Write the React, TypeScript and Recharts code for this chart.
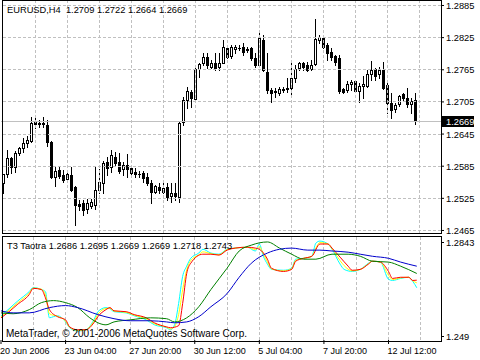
import React from "react";
import { ComposedChart, Bar, Line, XAxis, YAxis, ReferenceLine } from "recharts";

// EURUSD H4 candles, bar 1 = 20 Jun 2006 12:00
const opens = [
  1.2554, 1.2570, 1.2600, 1.2584, 1.2610, 1.2619, 1.2628, 1.2632, 1.2669, 1.2664,
  1.2666, 1.2662, 1.2630, 1.2565, 1.2578, 1.2569, 1.2561, 1.2569, 1.2546, 1.2515,
  1.2517, 1.2505, 1.2511, 1.2513, 1.2541, 1.2554, 1.2593, 1.2584, 1.2602, 1.2593,
  1.2580, 1.2587, 1.2582, 1.2574, 1.2571, 1.2572, 1.2565, 1.2554, 1.2537, 1.2546,
  1.2537, 1.2546, 1.2530, 1.2535, 1.2528, 1.2668, 1.2709, 1.2724, 1.2711, 1.2767,
  1.2778, 1.2789, 1.2770, 1.2778, 1.2770, 1.2778, 1.2806, 1.2791, 1.2804, 1.2806,
  1.2808, 1.2804, 1.2806, 1.2787, 1.2774, 1.2821, 1.2761, 1.2727, 1.2723, 1.2722,
  1.2727, 1.2729, 1.2731, 1.2750, 1.2768, 1.2778, 1.2774, 1.2767, 1.2776, 1.2821,
  1.2824, 1.2811, 1.2798, 1.2791, 1.2787, 1.2729, 1.2727, 1.2738, 1.2744, 1.2725,
  1.2735, 1.2735, 1.2757, 1.2767, 1.2757, 1.2765, 1.2737, 1.2703, 1.2692, 1.2701,
  1.2720, 1.2712, 1.2701, 1.2709,
];
const highs = [
  1.2570, 1.2615, 1.2602, 1.2613, 1.2621, 1.2638, 1.2642, 1.2677, 1.2677, 1.2671,
  1.2677, 1.2671, 1.2632, 1.2584, 1.2584, 1.2578, 1.2574, 1.2584, 1.2548, 1.2521,
  1.2522, 1.2524, 1.2524, 1.2584, 1.2580, 1.2595, 1.2602, 1.2615, 1.2612, 1.2610,
  1.2593, 1.2608, 1.2587, 1.2582, 1.2576, 1.2576, 1.2572, 1.2559, 1.2550, 1.2554,
  1.2554, 1.2554, 1.2554, 1.2554, 1.2668, 1.2714, 1.2733, 1.2727, 1.2768, 1.2778,
  1.2796, 1.2796, 1.2783, 1.2796, 1.2796, 1.2821, 1.2811, 1.2811, 1.2811, 1.2811,
  1.2815, 1.2808, 1.2808, 1.2796, 1.2834, 1.2830, 1.2796, 1.2731, 1.2731, 1.2733,
  1.2733, 1.2750, 1.2780, 1.2774, 1.2780, 1.2780, 1.2780, 1.2783, 1.2860, 1.2830,
  1.2826, 1.2815, 1.2806, 1.2793, 1.2793, 1.2731, 1.2744, 1.2746, 1.2746, 1.2740,
  1.2753, 1.2765, 1.2782, 1.2768, 1.2770, 1.2780, 1.2740, 1.2722, 1.2703, 1.2718,
  1.2722, 1.2731, 1.2712, 1.2722,
];
const lows = [
  1.2535, 1.2565, 1.2572, 1.2574, 1.2606, 1.2612, 1.2621, 1.2630, 1.2656, 1.2658,
  1.2658, 1.2623, 1.2563, 1.2548, 1.2563, 1.2556, 1.2559, 1.2539, 1.2475, 1.2503,
  1.2494, 1.2498, 1.2507, 1.2505, 1.2535, 1.2535, 1.2569, 1.2574, 1.2587, 1.2572,
  1.2569, 1.2565, 1.2565, 1.2565, 1.2565, 1.2556, 1.2550, 1.2517, 1.2535, 1.2535,
  1.2535, 1.2522, 1.2519, 1.2522, 1.2519, 1.2662, 1.2694, 1.2696, 1.2709, 1.2752,
  1.2774, 1.2768, 1.2768, 1.2765, 1.2765, 1.2777, 1.2787, 1.2787, 1.2796, 1.2802,
  1.2793, 1.2798, 1.2783, 1.2770, 1.2770, 1.2762, 1.2722, 1.2705, 1.2714, 1.2718,
  1.2724, 1.2724, 1.2718, 1.2742, 1.2765, 1.2765, 1.2763, 1.2765, 1.2774, 1.2815,
  1.2806, 1.2783, 1.2783, 1.2774, 1.2722, 1.2722, 1.2724, 1.2727, 1.2724, 1.2705,
  1.2712, 1.2733, 1.2746, 1.2746, 1.2750, 1.2729, 1.2684, 1.2675, 1.2686, 1.2697,
  1.2707, 1.2695, 1.2684, 1.2664,
];
const closes = [
  1.2570, 1.2600, 1.2584, 1.2610, 1.2619, 1.2628, 1.2634, 1.2666, 1.2664, 1.2666,
  1.2664, 1.2630, 1.2565, 1.2576, 1.2567, 1.2559, 1.2570, 1.2541, 1.2513, 1.2511,
  1.2503, 1.2517, 1.2519, 1.2541, 1.2556, 1.2591, 1.2582, 1.2606, 1.2591, 1.2576,
  1.2587, 1.2580, 1.2572, 1.2570, 1.2570, 1.2563, 1.2554, 1.2537, 1.2548, 1.2541,
  1.2544, 1.2528, 1.2535, 1.2530, 1.2666, 1.2709, 1.2725, 1.2712, 1.2767, 1.2776,
  1.2789, 1.2774, 1.2778, 1.2768, 1.2778, 1.2808, 1.2789, 1.2808, 1.2808, 1.2805,
  1.2798, 1.2802, 1.2787, 1.2774, 1.2824, 1.2765, 1.2727, 1.2722, 1.2725, 1.2729,
  1.2729, 1.2731, 1.2750, 1.2767, 1.2778, 1.2770, 1.2765, 1.2774, 1.2823, 1.2826,
  1.2808, 1.2796, 1.2789, 1.2780, 1.2725, 1.2724, 1.2738, 1.2742, 1.2725, 1.2735,
  1.2738, 1.2757, 1.2765, 1.2753, 1.2765, 1.2731, 1.2703, 1.2690, 1.2699, 1.2716,
  1.2712, 1.2701, 1.2707, 1.2669,
];

const totalSlots = 110; // chart shift leaves empty slots on the right
const priceTicks = [1.2465, 1.2525, 1.2585, 1.2645, 1.2705, 1.2765, 1.2825, 1.2885];
const lastPrice = 1.2669;
const gridBars = [9, 17, 25, 33, 41, 49, 57, 65, 73, 81, 89, 97, 105];
const dateBars = [1, 17, 33, 49, 65, 81, 97];
const dateLabels = ["20 Jun 2006", "23 Jun 04:00", "27 Jun 20:00", "30 Jun 12:00", "5 Jul 04:00", "7 Jul 20:00", "12 Jul 12:00"];
const t3Ticks = [1.249, 1.2843];

// T3 Taotra lines, [bar, value]
const t3Cyan = [
  [1, 1.2573], [3, 1.2597], [5, 1.2622], [8, 1.2656], [9, 1.267], [11, 1.2663], [12, 1.2656], [13, 1.2566],
  [14, 1.257], [15, 1.2573], [17, 1.2552], [18, 1.2532], [20, 1.2521], [22, 1.2525], [24, 1.2559], [25, 1.2587],
  [27, 1.2601], [28, 1.2597], [29, 1.2587], [32, 1.2583], [34, 1.2573], [37, 1.2559], [39, 1.2542], [42, 1.2532],
  [43, 1.2525], [44, 1.2542], [45, 1.2615], [46, 1.2708], [47, 1.2743], [48, 1.277], [50, 1.2788], [51, 1.2801],
  [53, 1.2788], [55, 1.2784], [57, 1.2801], [59, 1.2805], [62, 1.2808], [64, 1.2795], [65, 1.2819], [66, 1.2777],
  [67, 1.275], [68, 1.2732], [71, 1.2729], [73, 1.2736], [74, 1.2767], [76, 1.277], [78, 1.2777], [79, 1.2822],
  [80, 1.2829], [82, 1.2819], [83, 1.2801], [85, 1.275], [86, 1.2732], [88, 1.2725], [90, 1.2732], [92, 1.2753],
  [93, 1.276], [95, 1.2757], [97, 1.2698], [98, 1.2694], [100, 1.2701], [102, 1.2705], [103, 1.2691], [104, 1.2669],
];
const t3Yellow = [
  [1, 1.257], [3, 1.2592], [5, 1.2616], [8, 1.2651], [9, 1.2668], [11, 1.2664], [12, 1.2645], [13, 1.258],
  [15, 1.2571], [17, 1.2555], [18, 1.2534], [20, 1.2523], [22, 1.2525], [24, 1.2554], [25, 1.2578], [27, 1.2598],
  [28, 1.2599], [29, 1.2589], [32, 1.2585], [34, 1.2575], [37, 1.2562], [39, 1.2546], [42, 1.2534], [43, 1.2528],
  [44, 1.2536], [45, 1.2577], [46, 1.2662], [47, 1.273], [48, 1.2762], [50, 1.2782], [51, 1.2792], [53, 1.2786],
  [55, 1.2782], [57, 1.28], [59, 1.2805], [62, 1.2808], [64, 1.28], [65, 1.281], [66, 1.2785], [67, 1.2758],
  [68, 1.2734], [71, 1.2727], [73, 1.2734], [74, 1.2763], [76, 1.277], [78, 1.2777], [79, 1.2805], [80, 1.2824],
  [82, 1.2819], [83, 1.2803], [85, 1.2762], [86, 1.2745], [88, 1.2727], [90, 1.2732], [92, 1.2751], [93, 1.276],
  [95, 1.2757], [97, 1.2712], [98, 1.2697], [100, 1.2703], [102, 1.2705], [103, 1.2693], [104, 1.2686],
];
const t3Red = [
  [1, 1.2566], [3, 1.2587], [5, 1.2611], [8, 1.2646], [9, 1.2667], [11, 1.2663], [12, 1.2635], [13, 1.2594],
  [15, 1.257], [17, 1.2559], [18, 1.2535], [20, 1.2525], [22, 1.2525], [24, 1.2549], [25, 1.257], [27, 1.2594],
  [28, 1.2601], [29, 1.259], [32, 1.2587], [34, 1.2577], [37, 1.2566], [39, 1.2549], [42, 1.2535], [43, 1.2532],
  [45, 1.2539], [46, 1.2615], [47, 1.2718], [48, 1.2753], [51, 1.2784], [53, 1.2784], [55, 1.2781], [57, 1.2798],
  [59, 1.2805], [62, 1.2808], [64, 1.2805], [65, 1.2801], [67, 1.2767], [68, 1.2736], [71, 1.2725], [73, 1.2732],
  [74, 1.276], [76, 1.277], [78, 1.2777], [80, 1.2819], [82, 1.2819], [83, 1.2805], [85, 1.2774], [87, 1.2743],
  [88, 1.2729], [90, 1.2732], [92, 1.275], [93, 1.276], [95, 1.2757], [97, 1.2725], [98, 1.2701], [100, 1.2705],
  [102, 1.2705], [103, 1.2694], [104, 1.2695],
];
const t3Green = [
  [1, 1.2583], [4, 1.258], [8, 1.2594], [11, 1.2618], [14, 1.2625], [17, 1.2618], [20, 1.2601], [23, 1.2566],
  [25, 1.2549], [27, 1.2542], [29, 1.2552], [33, 1.2559], [38, 1.2566], [42, 1.2563], [44, 1.2552], [47, 1.2566],
  [50, 1.2604], [53, 1.2663], [57, 1.2736], [60, 1.2795], [63, 1.2815], [67, 1.2826], [70, 1.2805], [73, 1.2784],
  [76, 1.2767], [79, 1.2767], [83, 1.2784], [87, 1.2784], [90, 1.2777], [93, 1.276], [97, 1.2757], [100, 1.2743],
  [104, 1.2718],
];
const t3Blue = [
  [1, 1.259], [4, 1.2583], [8, 1.2583], [13, 1.2601], [17, 1.2608], [20, 1.2601], [25, 1.2577], [29, 1.2563],
  [33, 1.2556], [38, 1.2556], [42, 1.2552], [44, 1.2549], [47, 1.2552], [50, 1.257], [53, 1.2604], [57, 1.2649],
  [60, 1.2705], [63, 1.2753], [67, 1.2788], [70, 1.2801], [73, 1.2805], [77, 1.2798], [80, 1.2798], [83, 1.2795],
  [87, 1.2791], [90, 1.2784], [93, 1.2777], [97, 1.277], [100, 1.2757], [104, 1.2743],
];

const FONT = "'Liberation Sans', Arial, sans-serif";
const GRID = "#c0c0c0";

const candles = Array.from({ length: totalSlots }, (_, k) =>
  k < opens.length
    ? { i: k + 1, o: opens[k], h: highs[k], l: lows[k], c: closes[k], range: [lows[k], highs[k]] }
    : { i: k + 1, range: null }
);

const t3Rows: any[] = Array.from({ length: totalSlots }, (_, k) => ({ i: k + 1 }));
const put = (key: string, pts: number[][]) => pts.forEach(([b, v]) => (t3Rows[b - 1][key] = v));
put("cyan", t3Cyan);
put("yellow", t3Yellow);
put("red", t3Red);
put("green", t3Green);
put("blue", t3Blue);

function Candle(props: any) {
  const { x, y, width, height, payload } = props;
  if (payload == null || payload.o == null) return null;
  const { o, h, l, c } = payload;
  const py = (p: number) => (h === l ? y : y + ((h - p) / (h - l)) * height);
  const cx = Math.floor(x + width / 2);
  const top = Math.round(py(Math.max(o, c)));
  const bot = Math.round(py(Math.min(o, c)));
  const bull = c >= o;
  return (
    <g shapeRendering="crispEdges">
      <line x1={cx + 0.5} x2={cx + 0.5} y1={Math.round(y)} y2={Math.round(y + height) + 1} stroke="#000" />
      {bot - top < 1 ? (
        <line x1={cx - 1} x2={cx + 2} y1={top + 0.5} y2={top + 0.5} stroke="#000" />
      ) : (
        <rect x={cx - 0.5} y={top + 0.5} width={2} height={bot - top} fill={bull ? "#fff" : "#000"} stroke="#000" />
      )}
    </g>
  );
}

function PriceTick(props: any) {
  const { x, y, payload } = props;
  return (
    <text x={x} y={y} dy={3.5} fontSize={9.3} fontFamily={FONT} fill="#000">
      {payload.value.toFixed(4)}
    </text>
  );
}

function T3Tick(props: any) {
  const { x, y, payload, index } = props;
  const off = index === 0 ? -4 : 5;
  return (
    <g>
      <line x1={x - 5} x2={x - 2} y1={y + off + 0.5} y2={y + off + 0.5} stroke="#000" shapeRendering="crispEdges" />
      <text x={x} y={y + off} dy={3.5} fontSize={9.3} fontFamily={FONT} fill="#000">
        {payload.value.toFixed(4).replace(/0+$/, "")}
      </text>
    </g>
  );
}

function DateTick(props: any) {
  const { x, y, payload } = props;
  const idx = dateBars.indexOf(payload.value);
  return (
    <text x={x - 1} y={y} dy={8} fontSize={9} fontFamily={FONT} fill="#000">
      {dateLabels[idx]}
    </text>
  );
}

function LastPriceBox(props: any) {
  const vb = props.viewBox;
  const bx = vb.x + vb.width + 1;
  const by = Math.round(vb.y);
  return (
    <g>
      <rect x={bx} y={by - 5} width={32} height={11} fill="#000" />
      <text x={bx + 4} y={by + 4} fontSize={9.3} fontFamily={FONT} fill="#fff">
        {lastPrice.toFixed(4)}
      </text>
    </g>
  );
}

const frame = (top: number, height: number): React.CSSProperties => ({
  position: "absolute",
  left: 2,
  top,
  width: 440,
  height,
  border: "1px solid #000",
  boxSizing: "border-box",
  pointerEvents: "none",
});

const txt = (left: number, top: number, size: number): React.CSSProperties => ({
  position: "absolute",
  left,
  top,
  fontFamily: FONT,
  fontSize: size,
  lineHeight: "12px",
  whiteSpace: "pre",
  color: "#000",
});

export default function App() {
  return (
    <div style={{ position: "absolute", left: 0, top: 0, width: 480, height: 360, background: "#fff", overflow: "hidden" }}>
      <div style={{ position: "absolute", left: 0, top: 0 }}>
        <ComposedChart width={480} height={237} data={candles} margin={{ top: 1, right: 0, bottom: 4, left: 1 }}>
          <XAxis dataKey="i" hide />
          <YAxis
            orientation="right"
            width={39}
            domain={[1.24603, 1.28934]}
            allowDataOverflow
            ticks={priceTicks}
            interval={0}
            axisLine={false}
            tickLine={{ stroke: "#000" }}
            tickSize={3}
            tickMargin={2}
            tick={PriceTick}
          />
          {priceTicks.map((t) => (
            <ReferenceLine key={"h" + t} y={t} stroke={GRID} strokeDasharray="3 2" shapeRendering="crispEdges" />
          ))}
          {gridBars.map((b) => (
            <ReferenceLine key={"v" + b} x={b} stroke={GRID} strokeDasharray="3 2" shapeRendering="crispEdges" />
          ))}
          <ReferenceLine y={lastPrice} stroke={GRID} shapeRendering="crispEdges" label={LastPriceBox} />
          <Bar dataKey="range" barSize={3} shape={Candle} isAnimationActive={false} />
        </ComposedChart>
      </div>

      <div style={{ position: "absolute", left: 0, top: 236 }}>
        <ComposedChart width={480} height={124} data={t3Rows} margin={{ top: 1, right: 0, bottom: 0, left: 1 }}>
          <XAxis
            dataKey="i"
            ticks={dateBars}
            interval={0}
            height={20}
            axisLine={false}
            tickLine={{ stroke: "#000" }}
            tickSize={4}
            tickMargin={2}
            tick={DateTick}
          />
          <YAxis
            orientation="right"
            width={39}
            domain={[1.249, 1.2843]}
            allowDataOverflow
            ticks={t3Ticks}
            interval={0}
            axisLine={false}
            tickLine={false}
            tickSize={3}
            tickMargin={2}
            tick={T3Tick}
          />
          {gridBars.map((b) => (
            <ReferenceLine key={"v" + b} x={b} stroke={GRID} strokeDasharray="3 2" shapeRendering="crispEdges" />
          ))}
          <Line dataKey="cyan" type="monotone" stroke="#00ffff" dot={false} connectNulls isAnimationActive={false} />
          <Line dataKey="yellow" type="monotone" stroke="#ffff00" dot={false} connectNulls isAnimationActive={false} />
          <Line dataKey="red" type="monotone" stroke="#ff0000" dot={false} connectNulls isAnimationActive={false} />
          <Line dataKey="green" type="monotone" stroke="#008000" dot={false} connectNulls isAnimationActive={false} />
          <Line dataKey="blue" type="monotone" stroke="#0000cc" dot={false} connectNulls isAnimationActive={false} />
        </ComposedChart>
      </div>

      <div style={frame(0, 234)} />
      <div style={frame(236, 106)} />

      <div style={txt(7, 4, 9.3)}>{"EURUSD,H4  1.2709 1.2722 1.2664 1.2669"}</div>
      <div style={txt(7, 240, 9.3)}>{"T3 Taotra 1.2686 1.2695 1.2669 1.2669 1.2718 1.2743"}</div>
      <div style={txt(6, 328, 10)}>{"MetaTrader, © 2001-2006 MetaQuotes Software Corp."}</div>
    </div>
  );
}
